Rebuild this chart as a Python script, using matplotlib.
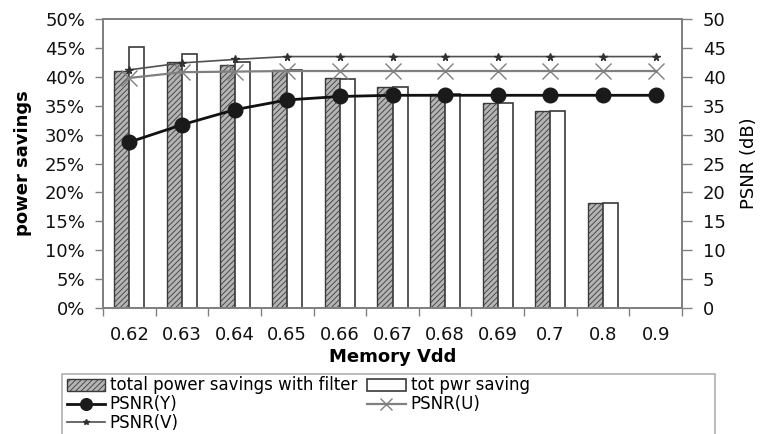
import matplotlib
matplotlib.use("Agg")
import matplotlib.pyplot as plt
import matplotlib.patches as mpatches
from matplotlib.ticker import FuncFormatter, FixedLocator
import numpy as np

categories = ["0.62", "0.63", "0.64", "0.65", "0.66", "0.67", "0.68", "0.69", "0.7", "0.8", "0.9"]
savings_filter = [41.0, 42.6, 42.0, 41.1, 39.8, 38.3, 37.0, 35.4, 34.0, 18.1, 0.0]
savings_total = [45.2, 44.0, 42.6, 41.1, 39.7, 38.3, 37.0, 35.4, 34.0, 18.1, 0.0]
psnr_y = [28.7, 31.7, 34.3, 36.0, 36.6, 36.8, 36.8, 36.8, 36.8, 36.8, 36.8]
psnr_u = [39.8, 40.8, 40.9, 41.0, 41.0, 41.0, 41.0, 41.0, 41.0, 41.0, 41.0]
psnr_v = [41.2, 42.4, 43.0, 43.5, 43.5, 43.5, 43.5, 43.5, 43.5, 43.5, 43.5]

plt.rcParams['font.family'] = ['DejaVu Sans']
plt.rcParams['hatch.linewidth'] = 0.6

W, H = 761, 434
fig = plt.figure(figsize=(W / 100, H / 100), dpi=100)
ax1 = fig.add_axes([103 / W, 1 - 308 / H, (682 - 103) / W, (308 - 19) / H])
ax2 = ax1.twinx()

x = np.arange(len(categories))
bw = 0.285
spine_c = '#808080'

b1 = ax1.bar(x - bw / 2, savings_filter, width=bw, facecolor='#b4b4b4', edgecolor='#3a3a3a',
             hatch='//////', linewidth=1.0, label='total power savings with filter')
b2 = ax1.bar(x + bw / 2, savings_total, width=bw, facecolor='white', edgecolor='#3a3a3a',
             linewidth=1.2, label='tot pwr saving')

ly, = ax2.plot(x, psnr_y, color='#111111', lw=2.0, marker='o', markersize=10.5,
               markerfacecolor='#1a1a1a', markeredgecolor='#1a1a1a', label='PSNR(Y)')
lu, = ax2.plot(x, psnr_u, color='#808080', lw=1.6, marker='x', markersize=11,
               markeredgewidth=1.0, label='PSNR(U)')
lv, = ax2.plot(x, psnr_v, color='#505050', lw=1.2, marker='*', markersize=5.5,
               markerfacecolor='#303030', markeredgecolor='#303030', label='PSNR(V)')

ax1.set_xlim(-0.5, len(categories) - 0.5)
ax1.set_ylim(0, 50)
ax2.set_ylim(0, 50)
ax1.set_yticks(np.arange(0, 51, 5))
ax2.set_yticks(np.arange(0, 51, 5))
ax1.yaxis.set_major_formatter(FuncFormatter(lambda v, p: f"{int(v)}%"))

ax1.set_xticks(x)
ax1.set_xticklabels(categories)
ax1.xaxis.set_minor_locator(FixedLocator(np.arange(-0.5, len(categories), 1.0)))
ax1.tick_params(axis='x', which='major', length=0, pad=13, labelsize=13, colors='#111111')
ax1.tick_params(axis='x', which='minor', length=6, width=1, color=spine_c, direction='out')
ax1.tick_params(axis='y', length=6, width=1, color=spine_c, pad=7, labelsize=13, labelcolor='#111111')
ax2.tick_params(axis='y', length=7, width=1, color=spine_c, pad=8, labelsize=13, labelcolor='#111111')

for a in (ax1, ax2):
    for s in a.spines.values():
        s.set_color(spine_c)
        s.set_linewidth(1.3)

ax1.set_xlabel('Memory Vdd', fontsize=13, fontweight='bold', labelpad=3)
ax1.set_ylabel('power savings', fontsize=13, fontweight='bold', labelpad=9)
ax2.set_ylabel('PSNR (dB)', fontsize=13, labelpad=10)

handles = [b1, ly, lv, b2, lu]
labels = [h.get_label() for h in handles]
leg = fig.legend(handles, labels, ncol=2, loc='upper left',
                 bbox_to_anchor=(64 / W, 1 - 374 / H), frameon=False, fontsize=12,
                 handlelength=2.3, handletextpad=0.3, columnspacing=0.6,
                 labelspacing=0.05, borderaxespad=0, borderpad=0.15, markerscale=0.8)

frame = mpatches.Rectangle((62 / W, -0.05), (715 - 62) / W, (434 - 374) / H + 0.05,
                           transform=fig.transFigure, fill=False, edgecolor='#b0b0b0',
                           linewidth=1.2)
fig.add_artist(frame)

fig.savefig('out.png', dpi=100)
